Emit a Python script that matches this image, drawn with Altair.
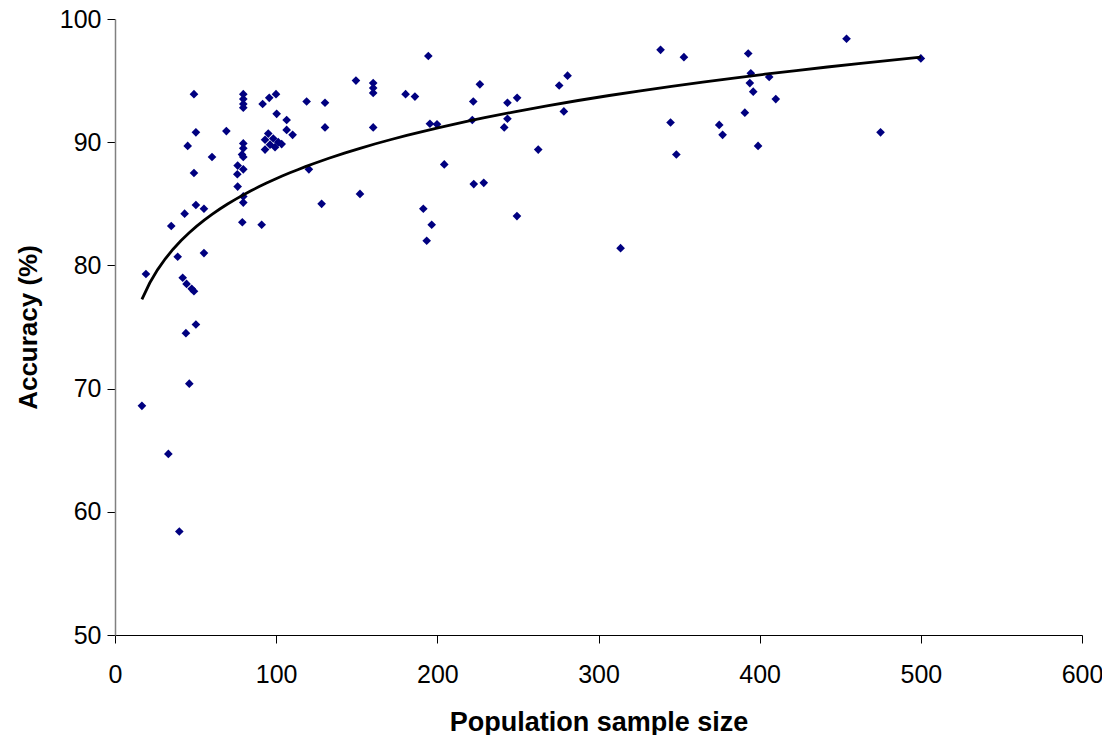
import altair as alt
import pandas as pd

# Population sample size (x) and accuracy in % (y)
sample_size = [
    16.7, 19.2, 33.1, 34.9, 38.9, 39.9, 42.0, 43.2, 44.0, 44.4,
    45.1, 46.1, 47.6, 49.0, 49.0, 49.0, 50.2, 50.2, 50.2, 55.2,
    55.2, 60.2, 69.1, 75.9, 76.1, 76.1, 79.6, 79.6, 79.6, 79.6,
    79.6, 79.6, 78.8, 79.6, 79.6, 79.6, 79.6, 79.0, 91.0, 91.6,
    95.7, 99.9, 100.3, 106.5, 106.5, 110.2, 95.1, 93.1, 98.2, 101.3,
    103.4, 96.2, 93.1, 99.3, 118.9, 120.3, 128.2, 130.3, 130.3, 149.5,
    152.0, 160.2, 160.2, 160.2, 160.2, 180.3, 186.1, 191.3, 193.4, 194.4,
    195.4, 196.5, 199.8, 204.3, 221.7, 222.3, 222.6, 226.4, 228.8, 241.5,
    243.5, 243.5, 249.4, 249.5, 262.6, 275.6, 278.5, 280.8, 313.7, 338.5,
    344.7, 348.3, 353.0, 374.9, 377.0, 390.8, 392.9, 393.9, 394.5, 396.0,
    399.0, 405.9, 410.0, 453.9, 475.0, 500.0,
]
accuracy = [
    68.6, 79.3, 64.7, 83.2, 80.7, 58.4, 79.0, 84.2, 74.5, 78.5,
    89.7, 70.4, 78.1, 77.9, 93.9, 87.5, 90.8, 84.9, 75.2, 84.6,
    81.0, 88.8, 90.9, 87.4, 88.1, 86.4, 93.9, 93.5, 93.1, 92.8,
    89.9, 89.5, 89.0, 88.8, 87.8, 85.6, 85.1, 83.5, 83.3, 93.1,
    93.6, 93.9, 92.3, 91.8, 91.0, 90.6, 90.7, 90.2, 90.3, 90.0,
    89.85, 89.8, 89.4, 89.6, 93.3, 87.8, 85.0, 93.2, 91.2, 95.0,
    85.8, 94.8, 94.4, 94.0, 91.2, 93.9, 93.7, 84.6, 82.0, 97.0,
    91.5, 83.3, 91.45, 88.2, 91.8, 93.3, 86.6, 94.7, 86.7, 91.2,
    93.2, 91.9, 84.0, 93.6, 89.4, 94.6, 92.5, 95.4, 81.4, 97.5,
    91.6, 89.0, 96.9, 91.4, 90.6, 92.4, 97.2, 94.8, 95.6, 94.1,
    89.7, 95.3, 93.5, 98.4, 90.8, 96.8,
]

x_ticks = [0, 100, 200, 300, 400, 500, 600]
y_ticks = [50, 60, 70, 80, 90, 100]

df = pd.DataFrame({"size": sample_size, "acc": accuracy})

FONT = "Liberation Sans"

x_enc = alt.X(
    "size:Q",
    scale=alt.Scale(domain=[0, 600], nice=False, zero=False),
    axis=alt.Axis(
        title="Population sample size",
        values=x_ticks,
        grid=False,
        labelFont=FONT, labelFontSize=25, labelColor="black",
        labelPadding=19, labelFlush=False, labelOverlap=False,
        tickSize=8, tickColor="black", tickWidth=1,
        domainColor="black", domainWidth=1,
        titleFont=FONT, titleFontSize=27, titleFontWeight="bold", titleColor="black",
        titleX=483.5, titleY=95, titleBaseline="alphabetic", titleAlign="center",
    ),
)
y_enc = alt.Y(
    "acc:Q",
    scale=alt.Scale(domain=[50, 100], nice=False, zero=False),
    axis=alt.Axis(
        title="Accuracy (%)",
        values=y_ticks,
        grid=False,
        labelFont=FONT, labelFontSize=25, labelColor="black",
        labelPadding=6, labelFlush=False, labelOverlap=False,
        tickSize=8, tickColor="black", tickWidth=1,
        domainColor="#808080", domainWidth=1.5,
        titleFont=FONT, titleFontSize=26, titleFontWeight="bold", titleColor="black",
        titleX=-87, titleY=308, titleAngle=270, titleBaseline="middle", titleAlign="center",
    ),
)

points = alt.Chart(df).mark_point(
    shape="diamond", filled=True, color="#000080", size=75, opacity=1
).encode(x=x_enc, y=y_enc)

trend = alt.Chart(df).transform_regression(
    "size", "acc", method="pow"
).mark_line(color="black", strokeWidth=2.8).encode(x=x_enc, y=y_enc)

chart = alt.layer(points, trend).properties(
    width=967,
    height=616,
    padding={"left": 107, "top": 11, "right": 20, "bottom": 100},
    autosize=alt.AutoSizeParams(type="none"),
).configure_view(stroke=None)

chart.save("out.html", embed_options={"renderer": "svg", "actions": False})
